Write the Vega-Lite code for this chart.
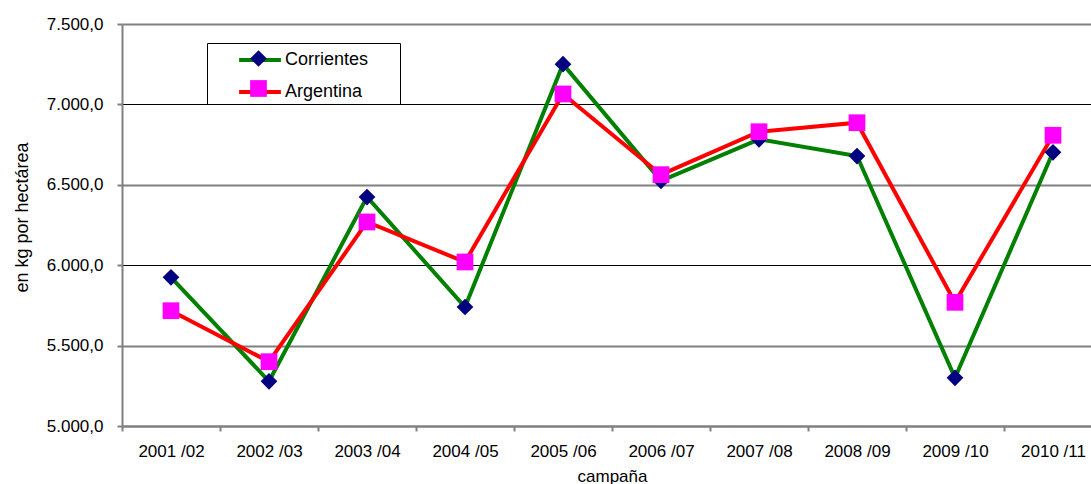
{
  "$schema": "https://vega.github.io/schema/vega-lite/v6.json",
  "width": 980,
  "height": 402,
  "autosize": {"type": "none"},
  "padding": {"left": 122, "top": 24, "right": -11, "bottom": 58},
  "background": "white",
  "config": {"font": "Liberation Sans", "view": {"stroke": null}},
  "data": {
    "values": [
      {"campana": "2001 /02", "serie": "Corrientes", "valor": 5925},
      {"campana": "2002 /03", "serie": "Corrientes", "valor": 5278},
      {"campana": "2003 /04", "serie": "Corrientes", "valor": 6424},
      {"campana": "2004 /05", "serie": "Corrientes", "valor": 5740},
      {"campana": "2005 /06", "serie": "Corrientes", "valor": 7250},
      {"campana": "2006 /07", "serie": "Corrientes", "valor": 6525},
      {"campana": "2007 /08", "serie": "Corrientes", "valor": 6783},
      {"campana": "2008 /09", "serie": "Corrientes", "valor": 6679},
      {"campana": "2009 /10", "serie": "Corrientes", "valor": 5300},
      {"campana": "2010 /11", "serie": "Corrientes", "valor": 6702},
      {"campana": "2001 /02", "serie": "Argentina", "valor": 5717},
      {"campana": "2002 /03", "serie": "Argentina", "valor": 5400},
      {"campana": "2003 /04", "serie": "Argentina", "valor": 6269},
      {"campana": "2004 /05", "serie": "Argentina", "valor": 6020},
      {"campana": "2005 /06", "serie": "Argentina", "valor": 7065},
      {"campana": "2006 /07", "serie": "Argentina", "valor": 6563},
      {"campana": "2007 /08", "serie": "Argentina", "valor": 6830},
      {"campana": "2008 /09", "serie": "Argentina", "valor": 6886},
      {"campana": "2009 /10", "serie": "Argentina", "valor": 5769},
      {"campana": "2010 /11", "serie": "Argentina", "valor": 6808}
    ]
  },
  "encoding": {
    "x": {
      "field": "campana",
      "type": "nominal",
      "sort": null,
      "scale": {"type": "band", "paddingInner": 0, "paddingOuter": 0},
      "axis": {
        "title": "campaña",
        "titleFontSize": 17,
        "titleFontWeight": "normal",
        "titleColor": "black",
        "titlePadding": 9,
        "labelAngle": 0,
        "labelFontSize": 17,
        "labelColor": "black",
        "labelPadding": 12,
        "tickBand": "extent",
        "tickSize": 5,
        "tickColor": "#808080",
        "tickWidth": 2,
        "domainColor": "#808080",
        "domainWidth": 2,
        "grid": false
      }
    },
    "y": {
      "field": "valor",
      "type": "quantitative",
      "scale": {"domain": [5000, 7500], "nice": false, "zero": false},
      "axis": {
        "values": [5000, 5500, 6000, 6500, 7000, 7500],
        "title": "en kg por hectárea",
        "titleFontSize": 18,
        "titleFontWeight": "normal",
        "titleColor": "black",
        "titlePadding": 15,
        "titleY": 193,
        "labelExpr": "replace(replace(replace(format(datum.value, ',.1f'), ',', 'X'), '.', ','), 'X', '.')",
        "labelFontSize": 17,
        "labelColor": "black",
        "labelPadding": 14,
        "tickSize": 5,
        "tickColor": "#808080",
        "tickWidth": 2,
        "domainColor": "#808080",
        "domainWidth": 2,
        "grid": true,
        "gridColor": {"condition": {"test": "datum.value == 6000 || datum.value == 7000", "value": "black"}, "value": "#808080"},
        "gridWidth": {"condition": {"test": "datum.value == 6000 || datum.value == 7000", "value": 1}, "value": 2},
        "gridOpacity": 1
      }
    }
  },
  "layer": [
    {
      "mark": {"type": "line", "strokeWidth": 4},
      "encoding": {
        "stroke": {
          "field": "serie",
          "type": "nominal",
          "scale": {"domain": ["Corrientes", "Argentina"], "range": ["#008000", "#FF0000"]},
          "legend": {
            "orient": "none",
            "legendX": 85,
            "legendY": 19,
            "title": null,
            "symbolType": "M-2.5,0H2.5",
            "symbolSize": 280,
            "symbolStrokeWidth": 4,
            "labelFontSize": 18,
            "labelColor": "black",
            "padding": 6.5,
            "symbolOffset": 36,
            "labelOffset": 14.5,
            "rowPadding": 12
          }
        }
      }
    },
    {
      "mark": {"type": "point", "filled": true, "size": 280, "opacity": 1},
      "encoding": {
        "fill": {
          "field": "serie",
          "type": "nominal",
          "scale": {"domain": ["Corrientes", "Argentina"], "range": ["#000080", "#FF00FF"]},
          "legend": {
            "orient": "none",
            "legendX": 85,
            "legendY": 19,
            "title": null,
            "symbolSize": 280,
            "symbolStrokeWidth": 0,
            "labelFontSize": 18,
            "labelOpacity": 0,
            "padding": 6.5,
            "symbolOffset": 36,
            "labelOffset": 100,
            "rowPadding": 12,
            "strokeColor": "black",
            "labelExpr": "'\u2800\u2800'"
          }
        },
        "shape": {
          "field": "serie",
          "type": "nominal",
          "scale": {"domain": ["Corrientes", "Argentina"], "range": ["diamond", "square"]},
          "legend": {
            "orient": "none",
            "legendX": 85,
            "legendY": 19,
            "title": null,
            "symbolSize": 280,
            "symbolStrokeWidth": 0,
            "labelFontSize": 18,
            "labelOpacity": 0,
            "padding": 6.5,
            "symbolOffset": 36,
            "labelOffset": 100,
            "rowPadding": 12,
            "strokeColor": "black",
            "labelExpr": "'\u2800\u2800'"
          }
        }
      }
    }
  ],
  "resolve": {"legend": {"stroke": "independent", "fill": "independent", "shape": "independent"}}
}
